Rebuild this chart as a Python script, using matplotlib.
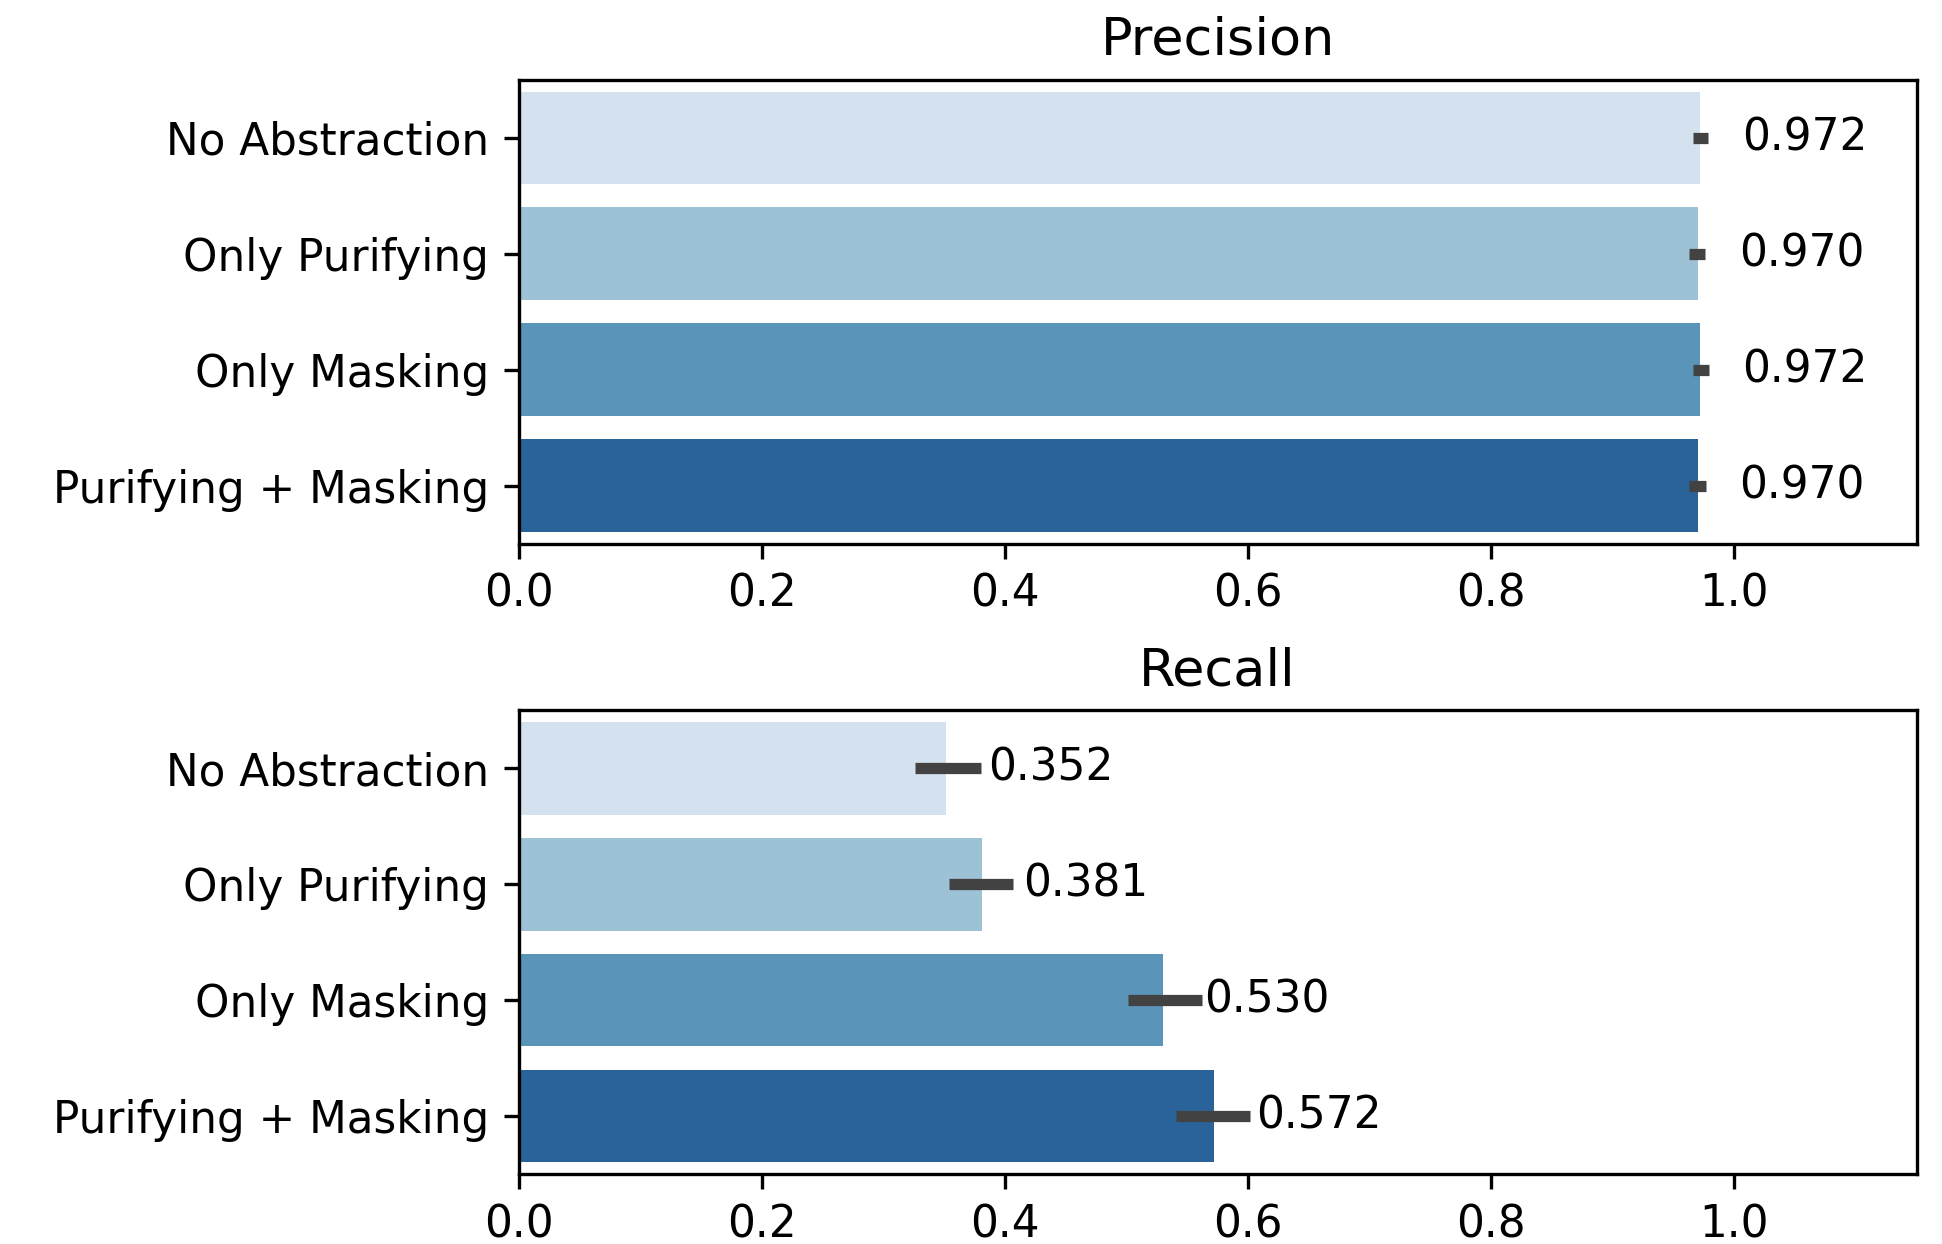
import matplotlib
matplotlib.use("Agg")
import matplotlib.pyplot as plt
import seaborn as sns
import numpy as np

# setups
labels = ["No Abstraction", "Only Purifying", "Only Masking", "Purifying + Masking"]

prec_mean = [0.972, 0.970, 0.972, 0.970]
prec_lo = [0.966, 0.963, 0.966, 0.963]
prec_hi = [0.978, 0.976, 0.979, 0.977]

rec_mean = [0.352, 0.381, 0.530, 0.572]
rec_lo = [0.326, 0.354, 0.501, 0.541]
rec_hi = [0.380, 0.407, 0.562, 0.602]

colors = sns.color_palette("Blues", 4, desat=0.75)

plt.rcParams["font.size"] = 10.5

fig, axes = plt.subplots(2, 1, figsize=(1942 / 300, 1244 / 300), dpi=300)
fig.subplots_adjust(left=0.267, right=0.987, top=0.9357, bottom=0.0563, hspace=0.36)

panels = [("Precision", prec_mean, prec_lo, prec_hi),
          ("Recall", rec_mean, rec_lo, rec_hi)]

for ax, (title, mean, lo, hi) in zip(axes, panels):
    y = np.arange(len(labels))
    mean = np.array(mean)
    err = np.array([mean - np.array(lo), np.array(hi) - mean])
    bars = ax.barh(y, mean, height=0.8, color=colors)
    ax.errorbar(mean, y, xerr=err, fmt="none", ecolor="#424242", elinewidth=2.7, capsize=0)
    ax.bar_label(bars, labels=["%.3f" % v for v in mean], padding=10, fontsize=10.5)
    ax.set_yticks(y)
    ax.set_yticklabels(labels)
    ax.set_ylim(3.5, -0.5)
    ax.set_xlim(0, 1.15)
    ax.set_xticks([0.0, 0.2, 0.4, 0.6, 0.8, 1.0])
    ax.set_title(title, fontsize=12.6)

fig.savefig("out.png", dpi=300)
